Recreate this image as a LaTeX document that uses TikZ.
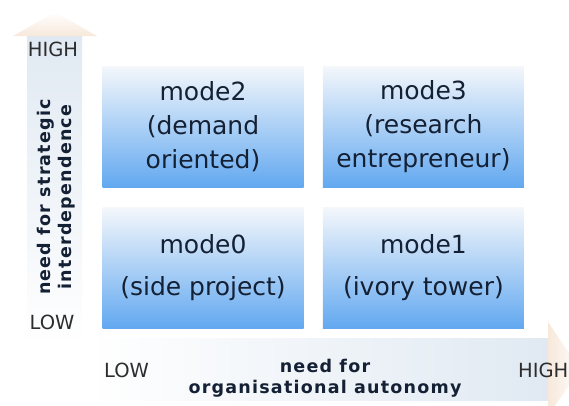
\documentclass[tikz,border=0pt]{standalone}
\usepackage{fontspec}
\setmainfont{DejaVu Sans}
\newfontfamily\axisfont[LetterSpace=7]{DejaVu Sans}
\usetikzlibrary{positioning}
\definecolor{modetop}{RGB}{244,247,251}
\definecolor{modeblue}{RGB}{98,168,240}
\definecolor{shaftblue}{RGB}{184,216,246}
\definecolor{shaftgrey}{RGB}{224,233,242}
\definecolor{headpeach}{RGB}{247,232,218}
\definecolor{inkblue}{RGB}{20,32,52}
\definecolor{levelgrey}{RGB}{45,45,45}

\begin{document}
\begin{tikzpicture}[x=1pt,y=-1pt,
    mode/.style={minimum width=201pt,minimum height=121pt,inner sep=0pt,
      top color=modetop,bottom color=modeblue,text=inkblue,align=center,
      font=\fontsize{25}{34}\selectfont},
    level/.style={text=levelgrey,font=\fontsize{19.5}{20}\selectfont},
    axislabel/.style={text=inkblue,align=center,
      font=\axisfont\bfseries\fontsize{17.5}{21}\selectfont}]
  \useasboundingbox (0,0) rectangle (569,405);
  % vertical axis arrow
  \shade[top color=shaftgrey,middle color=shaftblue,bottom color=white] (27,35) rectangle (82,345);
  \shade[top color=white,bottom color=headpeach] (13,36) -- (55,12) -- (97,36) -- cycle;
  % horizontal axis arrow
  \shade[left color=white,middle color=shaftblue,right color=shaftgrey] (88,338) rectangle (549,400);
  \shade[left color=headpeach,right color=white] (548,322) -- (580,369) -- (548,416) -- cycle;

  \node[mode] (mode0) at (203,268) {mode0\\[8pt](side project)};
  \node[mode,right=19pt of mode0] (mode1) {mode1\\[8pt](ivory tower)};
  \node[mode,above=20pt of mode0] (mode2) {mode2\\(demand\\oriented)};
  \node[mode,right=19pt of mode2] (mode3) {mode3\\(research\\entrepreneur)};

  \node[level] (hiY) at (53,49) {HIGH};
  \node[level] (loY) at (52,322) {LOW};
  \node[level] (loX) at (126.5,370) {LOW};
  \node[level,anchor=east,inner sep=0pt] (hiX) at (568.5,370) {HIGH};
  \node[axislabel,rotate=90] (yname) at (56,197) {need for strategic\\interdependence};
  \node[axislabel] (xname) at (325,378) {need for\\organisational autonomy};
\end{tikzpicture}
\end{document}
